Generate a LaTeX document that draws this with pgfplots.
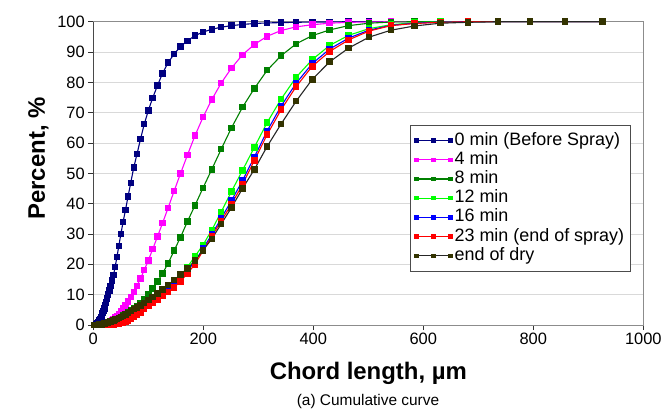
\documentclass[border=0pt]{standalone}
\usepackage{fontspec}
\setmainfont{Liberation Sans}
\usepackage{pgfplots}
\usepackage{pgfplotstable}
\pgfplotsset{compat=1.18}
\definecolor{c0}{RGB}{0,0,128}
\definecolor{c4}{RGB}{255,0,255}
\definecolor{c8}{RGB}{0,128,0}
\definecolor{c12}{RGB}{0,255,0}
\definecolor{c16}{RGB}{0,0,255}
\definecolor{c23}{RGB}{255,0,0}
\definecolor{cdry}{RGB}{51,51,0}
\definecolor{gridc}{RGB}{217,217,217}
\pgfplotstableread{
x A B C D E F G
1.0 0 0 0 0 0 0 0
3.16 0.03 0 0 0 0 0 0
3.41 0.04 0 0 0 0 0 0
3.69 0.05 0 0 0 0 0 0
3.98 0.06 0 0 0 0 0 0.01
4.30 0.08 0 0 0 0 0 0.01
4.64 0.10 0 0 0 0 0 0.01
5.01 0.12 0 0.01 0 0 0 0.02
5.41 0.14 0.01 0.01 0.01 0.01 0 0.02
5.84 0.17 0.01 0.02 0.01 0.01 0 0.03
6.31 0.20 0.01 0.02 0.01 0.01 0 0.03
6.81 0.27 0.02 0.03 0.02 0.02 0 0.04
7.36 0.36 0.02 0.03 0.02 0.02 0 0.05
7.94 0.47 0.03 0.04 0.03 0.03 0 0.05
8.58 0.60 0.03 0.05 0.03 0.03 0 0.06
9.26 0.78 0.04 0.06 0.04 0.04 0 0.07
10.0 1.0 0.04 0.07 0.04 0.04 0 0.08
10.8 1.2 0.05 0.08 0.05 0.05 0 0.10
11.7 1.5 0.07 0.09 0.06 0.06 0 0.12
12.6 1.9 0.09 0.11 0.07 0.07 0 0.14
13.6 2.3 0.11 0.13 0.08 0.08 0 0.17
14.7 2.7 0.14 0.16 0.10 0.10 0 0.20
15.8 3.3 0.18 0.20 0.12 0.12 0 0.25
17.1 3.9 0.23 0.25 0.14 0.14 0.01 0.30
18.5 4.6 0.29 0.30 0.17 0.17 0.01 0.35
20.0 5.4 0.36 0.36 0.21 0.21 0.02 0.42
21.5 6.4 0.45 0.43 0.25 0.25 0.02 0.50
23.3 7.5 0.55 0.50 0.30 0.30 0.03 0.60
25.1 8.7 0.70 0.60 0.36 0.36 0.04 0.70
27.1 10.0 0.85 0.72 0.42 0.42 0.05 0.80
29.3 11.4 1.05 0.85 0.50 0.50 0.07 0.95
31.6 12.9 1.3 1.0 0.60 0.60 0.10 1.1
34.1 14.6 1.6 1.2 0.70 0.70 0.13 1.3
36.8 16.5 2.0 1.4 0.85 0.85 0.18 1.5
39.8 19.2 2.45 1.65 1.0 1.0 0.25 1.75
43.0 22.5 3.0 1.95 1.15 1.15 0.33 2.0
46.4 26.0 3.7 2.3 1.35 1.35 0.45 2.3
50.1 30.0 4.5 2.7 1.6 1.6 0.6 2.6
54.1 33.9 5.4 3.1 1.9 1.9 0.8 3.0
58.5 37.9 6.5 3.6 2.3 2.3 1.1 3.5
63.1 42.3 7.8 4.2 2.7 2.7 1.5 4.0
68.1 46.9 9.2 4.8 3.3 3.3 2.0 4.6
73.6 52.0 10.9 5.5 3.9 3.9 2.6 5.2
79.4 56.3 12.9 6.3 4.5 4.5 3.3 5.8
85.8 61.3 15.3 7.3 5.3 5.3 4.2 6.5
92.6 66.2 18.1 8.6 6.2 6.2 5.2 7.3
100.0 70.7 21.3 10.2 7.2 7.2 6.2 8.2
108.0 74.9 25.0 12.1 8.3 8.2 7.2 9.2
116.6 78.9 29.1 14.3 9.5 9.3 8.3 10.4
125.9 83.0 33.6 17.0 10.9 10.6 9.5 11.7
136.0 86.5 38.6 20.3 12.4 12.0 10.8 13.2
146.8 89.3 44.1 24.5 14.1 13.4 12.4 14.8
158.5 91.8 49.9 28.9 16.2 15.3 14.4 16.6
171.1 93.7 56.0 34.1 19.1 17.9 17.0 18.6
184.8 95.4 62.4 39.4 22.6 20.9 20.0 21.3
199.5 96.6 68.5 45.2 26.4 25.2 24.5 24.6
215.4 97.5 74.3 51.3 31.3 29.8 29.2 28.4
232.6 98.2 79.8 58.0 37.3 35.2 34.3 33.3
251.2 98.7 84.7 65.0 44.0 41.0 39.8 38.7
271.3 99.1 89.1 71.8 51.0 47.6 46.3 45.0
292.9 99.4 92.5 78.0 58.6 55.4 54.3 51.3
316.2 99.6 95.2 84.0 66.8 64.0 62.8 58.9
341.5 99.7 97.1 88.8 74.5 72.2 71.0 66.3
368.8 99.8 98.3 92.7 81.7 79.7 78.6 73.8
398.1 99.9 99.0 95.4 87.5 86.2 85.3 81.0
429.9 99.9 99.5 97.3 92.2 91.0 90.2 86.8
464.2 100 99.8 98.7 95.5 94.6 94.0 91.3
501.2 100 99.9 99.5 97.7 97.2 96.9 94.9
541.2 100 100 99.9 99.0 98.8 98.7 97.2
584.4 100 100 100 99.7 99.5 99.4 98.6
631.0 100 100 100 100 99.9 99.8 99.5
681.3 100 100 100 100 100 100 99.8
735.6 100 100 100 100 100 100 100
794.3 100 100 100 100 100 100 100
857.7 100 100 100 100 100 100 100
926.1 100 100 100 100 100 100 100
}\data
\begin{document}
\begin{tikzpicture}
\begin{axis}[
  at={(0,0)}, anchor=south west,
  width=550bp, height=303.3bp, scale only axis,
  xmin=0, xmax=1000, ymin=0, ymax=100,
  xtick={0,200,...,1000}, ytick={0,10,...,100},
  tick align=outside, tick pos=left,
  major tick length=5bp,
  every tick/.style={black!80, line width=0.8bp},
  ymajorgrids, grid style={gridc, line width=1bp},
  axis line style={black!45, line width=0.8bp},
  ticklabel style={font=\fontsize{16.5}{16.5}\selectfont},
  /pgf/number format/assume math mode=true,
  /pgf/number format/1000 sep={},
  xlabel={Chord length, µm}, ylabel={Percent, \%},
  label style={font=\bfseries\fontsize{24}{24}\selectfont},
  xlabel style={at={(axis description cs:0.5,-0.158)}, anchor=center},
  ylabel style={at={(axis description cs:-0.1,0.549)}, anchor=center},
  legend style={at={(0.9776,0.659)}, anchor=north east, draw=black!70, line width=0.8bp,
    font=\fontsize{18}{18}\selectfont, inner xsep=4bp, inner ysep=5.5bp, row sep=0bp,
    nodes={inner ysep=1bp, inner xsep=2.5bp, text height=13bp, text depth=4.2bp}},
  legend cell align=left,
  legend image code/.code={%
    \draw[#1, mark size=1.7bp] plot coordinates {(0bp,0bp) (17bp,0bp) (34bp,0bp)};},
  every axis plot/.append style={line width=1.1bp, mark=square*, mark size=2.7bp, mark repeat=1},
]
\addplot[color=c0, mark options={fill=c0}] table[x=x,y=A]{\data};
\addlegendentry{0 min (Before Spray)}
\addplot[color=c4, mark options={fill=c4}] table[x=x,y=B]{\data};
\addlegendentry{4 min}
\addplot[color=c8, mark options={fill=c8}] table[x=x,y=C]{\data};
\addlegendentry{8 min}
\addplot[color=c12, mark options={fill=c12}] table[x=x,y=D]{\data};
\addlegendentry{12 min}
\addplot[color=c16, mark options={fill=c16}] table[x=x,y=E]{\data};
\addlegendentry{16 min}
\addplot[color=c23, mark options={fill=c23}] table[x=x,y=F]{\data};
\addlegendentry{23 min (end of spray)}
\addplot[color=black!85, mark options={fill=cdry, draw=cdry}] table[x=x,y=G]{\data};
\addlegendentry{end of dry}
\draw[black!85, line width=1bp] (rel axis cs:0,1) -- (rel axis cs:0,0) -- (rel axis cs:1,0);
\end{axis}
\node[font=\fontsize{15.5}{15.5}\selectfont] at (274.7bp,-77bp) {(a) Cumulative curve};
\pgfresetboundingbox
\path (-93.3bp,-95bp) rectangle (573.7bp,325bp);
\end{tikzpicture}
\end{document}
